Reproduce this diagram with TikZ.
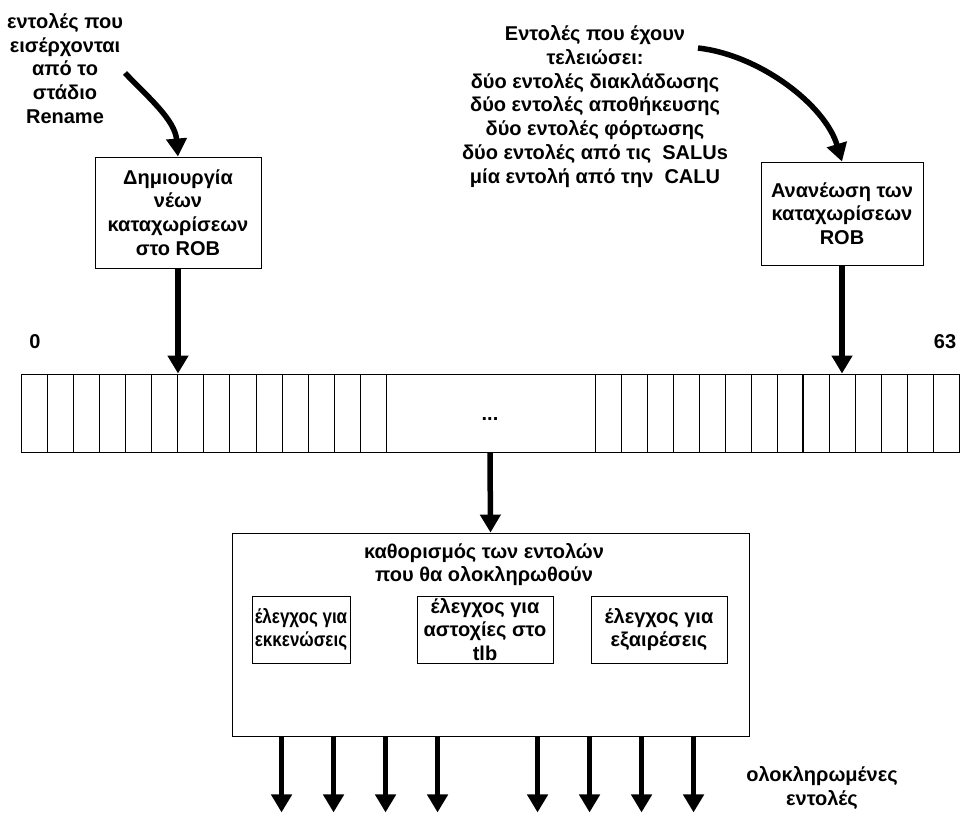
\documentclass[tikz,border=0pt]{standalone}
\usepackage{fontspec}
\setmainfont{Liberation Sans}
\usetikzlibrary{arrows.meta}
\begin{document}
\begin{tikzpicture}[x=1pt,y=-1pt,
  every node/.style={font=\fontsize{20}{23.7}\selectfont\bfseries, inner sep=0pt, align=center},
  bx/.style={draw=black, line width=0.9pt, fill=white},
  arr/.style={line width=5.5pt, -{Triangle[length=18pt,width=20pt]}},
  cellline/.style={line width=0.8pt},
  thickcell/.style={line width=1.4pt},
  narrow/.style={font=\fontsize{20}{23.7}\selectfont\bfseries\addfontfeature{FakeStretch=0.85}}]
\fill[white] (0,0) rectangle (960,812);
\useasboundingbox (0,0) rectangle (960,812);

% top texts
\node (intxt) at (65,68.5) {εντολές που\\εισέρχονται\\από το\\στάδιο\\Rename};
\node (donetxt) at (595,106.5) {Εντολές που έχουν\\τελειώσει:\\δύο εντολές διακλάδωσης\\δύο εντολές αποθήκευσης\\δύο εντολές φόρτωσης\\δύο εντολές από τις\ \ SALUs\\μία εντολή από την\ \ CALU};

% upper boxes
\node[bx, minimum width=166pt, minimum height=111pt] (newbox) at (178,212.5) {Δημιουργία\\νέων\\καταχωρίσεων\\στο ROB};
\node[bx, minimum width=162pt, minimum height=103pt] (updbox) at (842,213.5) {Ανανέωση των\\καταχωρίσεων\\ROB};

% curved arrows
\coordinate (inst) at (125,73);
\coordinate (donest) at (698,48);
\draw[arr] (inst) .. controls (148,97) and (175,120) .. (newbox.north);
\draw[arr] (donest) .. controls (760,55) and (825,105) .. (updbox.north);

% ROB array
\node[draw=black, line width=0.9pt, minimum width=938pt, minimum height=78pt] (rob) at (490,413) {};
\foreach \k in {1,...,14} \draw[cellline] ({21+26.1*\k},374) -- ({21+26.1*\k},452);
\foreach \k in {0,...,13} \draw[cellline] ({595+26*\k},374) -- ({595+26*\k},452);
\draw[thickcell] (803,374) -- (803,452);
\node (dots) at (490,419) {...};
\node (n0) at (35,342) {0};
\node (n63) at (945,342) {63};

\draw[arr] (newbox.south) -- (newbox.south |- rob.north);
\draw[arr] (updbox.south) -- (updbox.south |- rob.north);

% big box
\node[bx, minimum width=517pt, minimum height=203pt] (bigbox) at (490.5,634.5) {};
\draw[arr] (rob.south) -- (bigbox.north);
\node (title) at (484,564.5) {καθορισμός των εντολών\\που θα ολοκληρωθούν};
\node[bx, minimum width=98pt, minimum height=67pt] (chk1) at (301,629.5) {};
\node[narrow] (chk1txt) at (chk1.center) {έλεγχος για\\εκκενώσεις};
\node[bx, minimum width=136pt, minimum height=67pt] (chk2) at (485,629.5) {};
\node (chk2txt) at (chk2.center) {έλεγχος για\\αστοχίες στο\\tlb};
\node[bx, minimum width=136pt, minimum height=67pt] (chk3) at (659,629.5) {έλεγχος για\\εξαιρέσεις};

% output arrows
\foreach \x in {282,334,386,438,538,590,642,694}
  \draw[arr] ([xshift={(\x-232)*1pt}]bigbox.south west) -- ++(0,76);
\node (outtxt) at (822,788) {ολοκληρωμένες\\εντολές};
\end{tikzpicture}
\end{document}
